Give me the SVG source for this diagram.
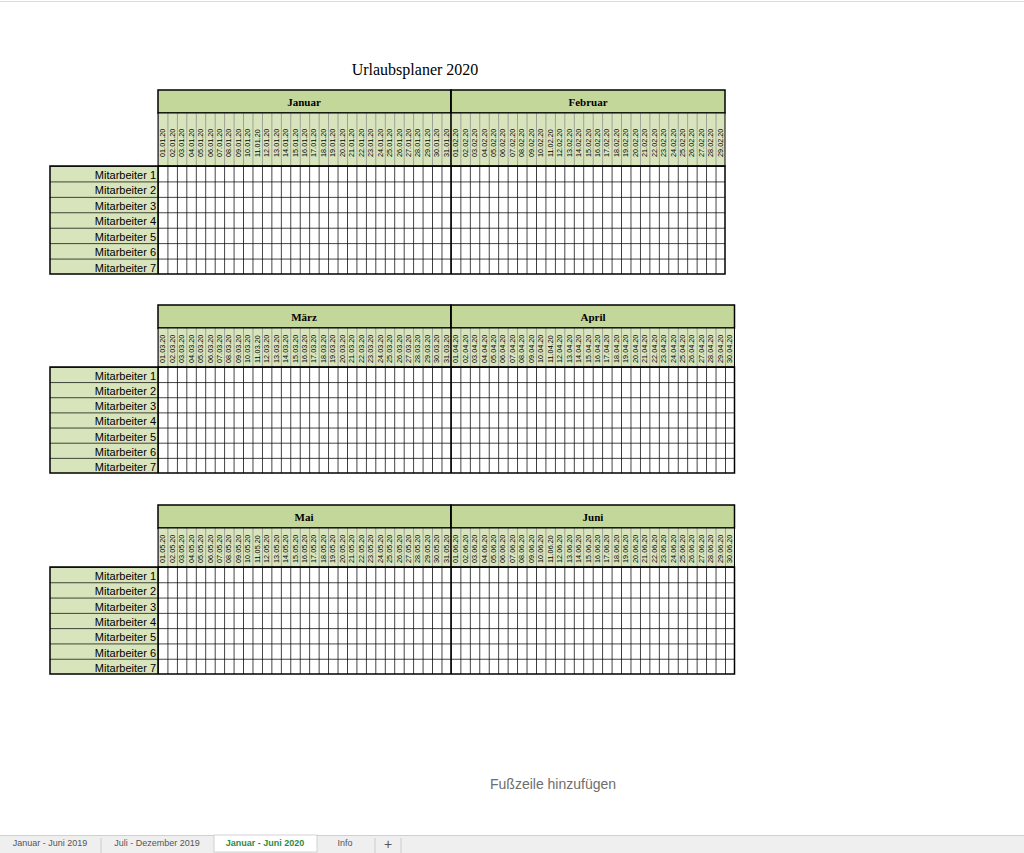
<svg xmlns="http://www.w3.org/2000/svg" width="1024" height="853" viewBox="0 0 1024 853">
<style>
.mh{fill:#c4d79b;stroke:#000;stroke-width:1.5}
.mt{font-family:"Liberation Serif",serif;font-weight:bold;font-size:11px;text-anchor:middle}
.lb{font-family:"Liberation Sans",sans-serif;font-size:11px;text-anchor:end}
.d text{font-family:"Liberation Sans",sans-serif;font-size:7.3px}
.ob{fill:none;stroke:#000;stroke-width:1.5}
</style>
<defs>
<pattern id="pb1" patternUnits="userSpaceOnUse" x="158" y="166" width="9.45" height="15.43"><path d="M0.4,0V15.43M0,0.4H9.45" stroke="#000" stroke-width="0.8"/></pattern>
<pattern id="pb2" patternUnits="userSpaceOnUse" x="158" y="367" width="9.45" height="15.14"><path d="M0.4,0V15.14M0,0.4H9.45" stroke="#000" stroke-width="0.8"/></pattern>
<pattern id="pb3" patternUnits="userSpaceOnUse" x="158" y="567" width="9.45" height="15.29"><path d="M0.4,0V15.29M0,0.4H9.45" stroke="#000" stroke-width="0.8"/></pattern>
<pattern id="pd" patternUnits="userSpaceOnUse" x="158" y="0" width="9.45" height="10"><rect width="9.45" height="10" fill="#d8e4bc"/><path d="M0.4,0V10" stroke="#888" stroke-width="0.8"/></pattern>
<pattern id="pl1" patternUnits="userSpaceOnUse" x="50" y="166" width="108" height="15.43"><rect width="108" height="15.43" fill="#d8e4bc"/><path d="M0,0.4H108" stroke="#000" stroke-width="0.8"/></pattern>
<pattern id="pl2" patternUnits="userSpaceOnUse" x="50" y="367" width="108" height="15.14"><rect width="108" height="15.14" fill="#d8e4bc"/><path d="M0,0.4H108" stroke="#000" stroke-width="0.8"/></pattern>
<pattern id="pl3" patternUnits="userSpaceOnUse" x="50" y="567" width="108" height="15.29"><rect width="108" height="15.29" fill="#d8e4bc"/><path d="M0,0.4H108" stroke="#000" stroke-width="0.8"/></pattern>
</defs>
<rect width="1024" height="853" fill="#fff"/>
<line x1="0" y1="1.5" x2="1024" y2="1.5" stroke="#ddd"/>
<text x="415" y="75" font-family="Liberation Serif,serif" font-size="16" text-anchor="middle">Urlaubsplaner 2020</text>

<g id="table1">
<rect x="158" y="90" width="292.95" height="23" class="mh"/>
<rect x="450.95" y="90" width="274.05" height="23" class="mh"/>
<text x="304" y="106" class="mt">Januar</text>
<text x="588" y="106" class="mt">Februar</text>
<rect x="158" y="113" width="567" height="53" fill="url(#pd)" stroke="#000" stroke-width="1"/>
<rect x="158" y="166" width="567" height="108" fill="url(#pb1)"/>
<rect x="50" y="166" width="108" height="108" fill="url(#pl1)"/>
<rect x="50" y="166" width="675" height="108" class="ob"/>
<line x1="158" y1="166" x2="158" y2="274" stroke="#000" stroke-width="1.5"/>
<line x1="450.95" y1="90" x2="450.95" y2="274" stroke="#000" stroke-width="1.5"/>
<g>
<text x="156" y="179" class="lb">Mitarbeiter 1</text><text x="156" y="194.4" class="lb">Mitarbeiter 2</text><text x="156" y="209.9" class="lb">Mitarbeiter 3</text><text x="156" y="225.3" class="lb">Mitarbeiter 4</text><text x="156" y="240.7" class="lb">Mitarbeiter 5</text><text x="156" y="256.2" class="lb">Mitarbeiter 6</text><text x="156" y="271.6" class="lb">Mitarbeiter 7</text>
</g>
<g class="d" transform="translate(0,157)">
<text transform="rotate(-90)" y="165.2">01.01.20</text><text transform="rotate(-90)" y="174.7">02.01.20</text><text transform="rotate(-90)" y="184.1">03.01.20</text><text transform="rotate(-90)" y="193.6">04.01.20</text><text transform="rotate(-90)" y="203.0">05.01.20</text><text transform="rotate(-90)" y="212.5">06.01.20</text><text transform="rotate(-90)" y="221.9">07.01.20</text><text transform="rotate(-90)" y="231.4">08.01.20</text><text transform="rotate(-90)" y="240.8">09.01.20</text><text transform="rotate(-90)" y="250.3">10.01.20</text><text transform="rotate(-90)" y="259.7">11.01.20</text><text transform="rotate(-90)" y="269.2">12.01.20</text><text transform="rotate(-90)" y="278.6">13.01.20</text><text transform="rotate(-90)" y="288.1">14.01.20</text><text transform="rotate(-90)" y="297.5">15.01.20</text><text transform="rotate(-90)" y="307.0">16.01.20</text><text transform="rotate(-90)" y="316.4">17.01.20</text><text transform="rotate(-90)" y="325.9">18.01.20</text><text transform="rotate(-90)" y="335.3">19.01.20</text><text transform="rotate(-90)" y="344.8">20.01.20</text><text transform="rotate(-90)" y="354.2">21.01.20</text><text transform="rotate(-90)" y="363.7">22.01.20</text><text transform="rotate(-90)" y="373.1">23.01.20</text><text transform="rotate(-90)" y="382.6">24.01.20</text><text transform="rotate(-90)" y="392.0">25.01.20</text><text transform="rotate(-90)" y="401.5">26.01.20</text><text transform="rotate(-90)" y="410.9">27.01.20</text><text transform="rotate(-90)" y="420.4">28.01.20</text><text transform="rotate(-90)" y="429.8">29.01.20</text><text transform="rotate(-90)" y="439.3">30.01.20</text><text transform="rotate(-90)" y="448.7">31.01.20</text>
<text transform="rotate(-90)" y="458.2">01.02.20</text><text transform="rotate(-90)" y="467.6">02.02.20</text><text transform="rotate(-90)" y="477.1">03.02.20</text><text transform="rotate(-90)" y="486.5">04.02.20</text><text transform="rotate(-90)" y="496.0">05.02.20</text><text transform="rotate(-90)" y="505.4">06.02.20</text><text transform="rotate(-90)" y="514.9">07.02.20</text><text transform="rotate(-90)" y="524.3">08.02.20</text><text transform="rotate(-90)" y="533.8">09.02.20</text><text transform="rotate(-90)" y="543.2">10.02.20</text><text transform="rotate(-90)" y="552.7">11.02.20</text><text transform="rotate(-90)" y="562.1">12.02.20</text><text transform="rotate(-90)" y="571.6">13.02.20</text><text transform="rotate(-90)" y="581.0">14.02.20</text><text transform="rotate(-90)" y="590.5">15.02.20</text><text transform="rotate(-90)" y="599.9">16.02.20</text><text transform="rotate(-90)" y="609.4">17.02.20</text><text transform="rotate(-90)" y="618.8">18.02.20</text><text transform="rotate(-90)" y="628.3">19.02.20</text><text transform="rotate(-90)" y="637.7">20.02.20</text><text transform="rotate(-90)" y="647.2">21.02.20</text><text transform="rotate(-90)" y="656.6">22.02.20</text><text transform="rotate(-90)" y="666.1">23.02.20</text><text transform="rotate(-90)" y="675.5">24.02.20</text><text transform="rotate(-90)" y="685.0">25.02.20</text><text transform="rotate(-90)" y="694.4">26.02.20</text><text transform="rotate(-90)" y="703.9">27.02.20</text><text transform="rotate(-90)" y="713.3">28.02.20</text><text transform="rotate(-90)" y="722.8">29.02.20</text>
</g>
</g>

<g id="table2">
<rect x="158" y="305" width="292.95" height="23" class="mh"/>
<rect x="450.95" y="305" width="283.55" height="23" class="mh"/>
<text x="304" y="321" class="mt">März</text>
<text x="593" y="321" class="mt">April</text>
<rect x="158" y="328" width="576.5" height="39" fill="url(#pd)" stroke="#000" stroke-width="1"/>
<rect x="158" y="367" width="576.5" height="106" fill="url(#pb2)"/>
<rect x="50" y="367" width="108" height="106" fill="url(#pl2)"/>
<rect x="50" y="367" width="684.5" height="106" class="ob"/>
<line x1="158" y1="367" x2="158" y2="473" stroke="#000" stroke-width="1.5"/>
<line x1="450.95" y1="305" x2="450.95" y2="473" stroke="#000" stroke-width="1.5"/>
<g>
<text x="156" y="380" class="lb">Mitarbeiter 1</text><text x="156" y="395.1" class="lb">Mitarbeiter 2</text><text x="156" y="410.3" class="lb">Mitarbeiter 3</text><text x="156" y="425.4" class="lb">Mitarbeiter 4</text><text x="156" y="440.6" class="lb">Mitarbeiter 5</text><text x="156" y="455.7" class="lb">Mitarbeiter 6</text><text x="156" y="470.8" class="lb">Mitarbeiter 7</text>
</g>
<g class="d" transform="translate(0,363)">
<text transform="rotate(-90)" y="165.2">01.03.20</text><text transform="rotate(-90)" y="174.7">02.03.20</text><text transform="rotate(-90)" y="184.1">03.03.20</text><text transform="rotate(-90)" y="193.6">04.03.20</text><text transform="rotate(-90)" y="203.0">05.03.20</text><text transform="rotate(-90)" y="212.5">06.03.20</text><text transform="rotate(-90)" y="221.9">07.03.20</text><text transform="rotate(-90)" y="231.4">08.03.20</text><text transform="rotate(-90)" y="240.8">09.03.20</text><text transform="rotate(-90)" y="250.3">10.03.20</text><text transform="rotate(-90)" y="259.7">11.03.20</text><text transform="rotate(-90)" y="269.2">12.03.20</text><text transform="rotate(-90)" y="278.6">13.03.20</text><text transform="rotate(-90)" y="288.1">14.03.20</text><text transform="rotate(-90)" y="297.5">15.03.20</text><text transform="rotate(-90)" y="307.0">16.03.20</text><text transform="rotate(-90)" y="316.4">17.03.20</text><text transform="rotate(-90)" y="325.9">18.03.20</text><text transform="rotate(-90)" y="335.3">19.03.20</text><text transform="rotate(-90)" y="344.8">20.03.20</text><text transform="rotate(-90)" y="354.2">21.03.20</text><text transform="rotate(-90)" y="363.7">22.03.20</text><text transform="rotate(-90)" y="373.1">23.03.20</text><text transform="rotate(-90)" y="382.6">24.03.20</text><text transform="rotate(-90)" y="392.0">25.03.20</text><text transform="rotate(-90)" y="401.5">26.03.20</text><text transform="rotate(-90)" y="410.9">27.03.20</text><text transform="rotate(-90)" y="420.4">28.03.20</text><text transform="rotate(-90)" y="429.8">29.03.20</text><text transform="rotate(-90)" y="439.3">30.03.20</text><text transform="rotate(-90)" y="448.7">31.03.20</text>
<text transform="rotate(-90)" y="458.2">01.04.20</text><text transform="rotate(-90)" y="467.6">02.04.20</text><text transform="rotate(-90)" y="477.1">03.04.20</text><text transform="rotate(-90)" y="486.5">04.04.20</text><text transform="rotate(-90)" y="496.0">05.04.20</text><text transform="rotate(-90)" y="505.4">06.04.20</text><text transform="rotate(-90)" y="514.9">07.04.20</text><text transform="rotate(-90)" y="524.3">08.04.20</text><text transform="rotate(-90)" y="533.8">09.04.20</text><text transform="rotate(-90)" y="543.2">10.04.20</text><text transform="rotate(-90)" y="552.7">11.04.20</text><text transform="rotate(-90)" y="562.1">12.04.20</text><text transform="rotate(-90)" y="571.6">13.04.20</text><text transform="rotate(-90)" y="581.0">14.04.20</text><text transform="rotate(-90)" y="590.5">15.04.20</text><text transform="rotate(-90)" y="599.9">16.04.20</text><text transform="rotate(-90)" y="609.4">17.04.20</text><text transform="rotate(-90)" y="618.8">18.04.20</text><text transform="rotate(-90)" y="628.3">19.04.20</text><text transform="rotate(-90)" y="637.7">20.04.20</text><text transform="rotate(-90)" y="647.2">21.04.20</text><text transform="rotate(-90)" y="656.6">22.04.20</text><text transform="rotate(-90)" y="666.1">23.04.20</text><text transform="rotate(-90)" y="675.5">24.04.20</text><text transform="rotate(-90)" y="685.0">25.04.20</text><text transform="rotate(-90)" y="694.4">26.04.20</text><text transform="rotate(-90)" y="703.9">27.04.20</text><text transform="rotate(-90)" y="713.3">28.04.20</text><text transform="rotate(-90)" y="722.8">29.04.20</text><text transform="rotate(-90)" y="732.2">30.04.20</text>
</g>
</g>

<g id="table3">
<rect x="158" y="505" width="292.95" height="23" class="mh"/>
<rect x="450.95" y="505" width="283.55" height="23" class="mh"/>
<text x="304" y="521" class="mt">Mai</text>
<text x="593" y="521" class="mt">Juni</text>
<rect x="158" y="528" width="576.5" height="39" fill="url(#pd)" stroke="#000" stroke-width="1"/>
<rect x="158" y="567" width="576.5" height="107" fill="url(#pb3)"/>
<rect x="50" y="567" width="108" height="107" fill="url(#pl3)"/>
<rect x="50" y="567" width="684.5" height="107" class="ob"/>
<line x1="158" y1="567" x2="158" y2="674" stroke="#000" stroke-width="1.5"/>
<line x1="450.95" y1="505" x2="450.95" y2="674" stroke="#000" stroke-width="1.5"/>
<g>
<text x="156" y="580" class="lb">Mitarbeiter 1</text><text x="156" y="595.3" class="lb">Mitarbeiter 2</text><text x="156" y="610.6" class="lb">Mitarbeiter 3</text><text x="156" y="625.9" class="lb">Mitarbeiter 4</text><text x="156" y="641.2" class="lb">Mitarbeiter 5</text><text x="156" y="656.5" class="lb">Mitarbeiter 6</text><text x="156" y="671.7" class="lb">Mitarbeiter 7</text>
</g>
<g class="d" transform="translate(0,563)">
<text transform="rotate(-90)" y="165.2">01.05.20</text><text transform="rotate(-90)" y="174.7">02.05.20</text><text transform="rotate(-90)" y="184.1">03.05.20</text><text transform="rotate(-90)" y="193.6">04.05.20</text><text transform="rotate(-90)" y="203.0">05.05.20</text><text transform="rotate(-90)" y="212.5">06.05.20</text><text transform="rotate(-90)" y="221.9">07.05.20</text><text transform="rotate(-90)" y="231.4">08.05.20</text><text transform="rotate(-90)" y="240.8">09.05.20</text><text transform="rotate(-90)" y="250.3">10.05.20</text><text transform="rotate(-90)" y="259.7">11.05.20</text><text transform="rotate(-90)" y="269.2">12.05.20</text><text transform="rotate(-90)" y="278.6">13.05.20</text><text transform="rotate(-90)" y="288.1">14.05.20</text><text transform="rotate(-90)" y="297.5">15.05.20</text><text transform="rotate(-90)" y="307.0">16.05.20</text><text transform="rotate(-90)" y="316.4">17.05.20</text><text transform="rotate(-90)" y="325.9">18.05.20</text><text transform="rotate(-90)" y="335.3">19.05.20</text><text transform="rotate(-90)" y="344.8">20.05.20</text><text transform="rotate(-90)" y="354.2">21.05.20</text><text transform="rotate(-90)" y="363.7">22.05.20</text><text transform="rotate(-90)" y="373.1">23.05.20</text><text transform="rotate(-90)" y="382.6">24.05.20</text><text transform="rotate(-90)" y="392.0">25.05.20</text><text transform="rotate(-90)" y="401.5">26.05.20</text><text transform="rotate(-90)" y="410.9">27.05.20</text><text transform="rotate(-90)" y="420.4">28.05.20</text><text transform="rotate(-90)" y="429.8">29.05.20</text><text transform="rotate(-90)" y="439.3">30.05.20</text><text transform="rotate(-90)" y="448.7">31.05.20</text>
<text transform="rotate(-90)" y="458.2">01.06.20</text><text transform="rotate(-90)" y="467.6">02.06.20</text><text transform="rotate(-90)" y="477.1">03.06.20</text><text transform="rotate(-90)" y="486.5">04.06.20</text><text transform="rotate(-90)" y="496.0">05.06.20</text><text transform="rotate(-90)" y="505.4">06.06.20</text><text transform="rotate(-90)" y="514.9">07.06.20</text><text transform="rotate(-90)" y="524.3">08.06.20</text><text transform="rotate(-90)" y="533.8">09.06.20</text><text transform="rotate(-90)" y="543.2">10.06.20</text><text transform="rotate(-90)" y="552.7">11.06.20</text><text transform="rotate(-90)" y="562.1">12.06.20</text><text transform="rotate(-90)" y="571.6">13.06.20</text><text transform="rotate(-90)" y="581.0">14.06.20</text><text transform="rotate(-90)" y="590.5">15.06.20</text><text transform="rotate(-90)" y="599.9">16.06.20</text><text transform="rotate(-90)" y="609.4">17.06.20</text><text transform="rotate(-90)" y="618.8">18.06.20</text><text transform="rotate(-90)" y="628.3">19.06.20</text><text transform="rotate(-90)" y="637.7">20.06.20</text><text transform="rotate(-90)" y="647.2">21.06.20</text><text transform="rotate(-90)" y="656.6">22.06.20</text><text transform="rotate(-90)" y="666.1">23.06.20</text><text transform="rotate(-90)" y="675.5">24.06.20</text><text transform="rotate(-90)" y="685.0">25.06.20</text><text transform="rotate(-90)" y="694.4">26.06.20</text><text transform="rotate(-90)" y="703.9">27.06.20</text><text transform="rotate(-90)" y="713.3">28.06.20</text><text transform="rotate(-90)" y="722.8">29.06.20</text><text transform="rotate(-90)" y="732.2">30.06.20</text>
</g>
</g>

<text x="490" y="789" font-family="Liberation Sans,sans-serif" font-size="14" fill="#6e6e6e">Fußzeile hinzufügen</text>

<g id="tabs" font-family="Liberation Sans,sans-serif" font-size="9" text-anchor="middle" fill="#555">
<rect x="0" y="835" width="1024" height="18" fill="#efefef"/>
<line x1="0" y1="835.5" x2="1024" y2="835.5" stroke="#d0d0d0"/>
<rect x="214" y="835" width="103" height="17" fill="#fff" stroke="#c8c8c8" stroke-width="0.8"/>
<line x1="101" y1="838" x2="101" y2="853" stroke="#ccc"/>
<line x1="375" y1="838" x2="375" y2="853" stroke="#ccc"/>
<line x1="401" y1="838" x2="401" y2="853" stroke="#ccc"/>
<text x="50" y="846">Januar - Juni 2019</text>
<text x="157" y="846">Juli - Dezember 2019</text>
<text x="265" y="846" fill="#2e8b3e" font-weight="bold">Januar - Juni 2020</text>
<text x="345" y="846">Info</text>
<text x="388" y="849" font-size="14">+</text>
</g>
</svg>
